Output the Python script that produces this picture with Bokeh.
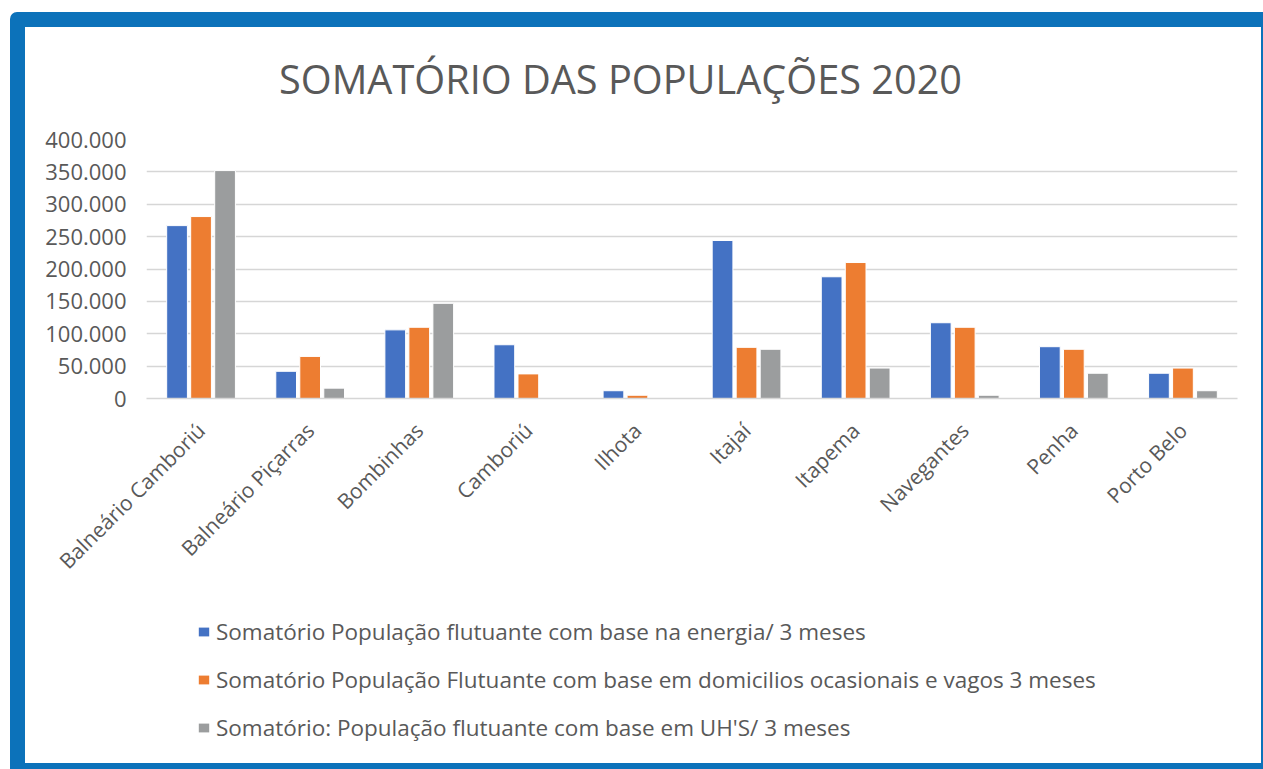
import math
from bokeh.plotting import figure
from bokeh.models import (FactorRange, FixedTicker, Legend, LegendItem, ColumnDataSource,
                          Range1d, Label)
from bokeh.transform import dodge
from bokeh.layouts import column
from bokeh.embed import file_html
from bokeh.resources import INLINE

# ---- data ----
cities = ["Balneário Camboriú", "Balneário Piçarras", "Bombinhas", "Camboriú", "Ilhota",
          "Itajaí", "Itapema", "Navegantes", "Penha", "Porto Belo"]
energia = [267000, 42000, 106000, 83000, 12000, 244000, 188000, 117000, 80000, 39000]
domicilios = [281000, 65000, 110000, 38000, 5000, 79000, 210000, 110000, 76000, 47000]
uhs = [352000, 16000, 147000, 0, 0, 76000, 47000, 5000, 39000, 12000]
series_names = [
    "Somatório População flutuante com base na energia/ 3 meses",
    "Somatório População Flutuante com base em domicilios ocasionais e vagos 3 meses",
    "Somatório: População flutuante com base em UH'S/ 3 meses",
]
y_ticks = [0, 50000, 100000, 150000, 200000, 250000, 300000, 350000, 400000]
y_tick_labels = ["0", "50.000", "100.000", "150.000", "200.000", "250.000", "300.000", "350.000", "400.000"]
title_text = "SOMATÓRIO DAS POPULAÇÕES 2020"

colors = ["#4472C4", "#ED7D31", "#9B9D9E"]
FONT = "Open Sans"
TXT = "#595959"
W = 1236
BORDERS = dict(min_border_left=121, min_border_right=24)


def blank_panel(height):
    f = figure(width=W, height=height, output_backend="svg", toolbar_location=None,
               x_axis_location=None, y_axis_location=None,
               x_range=Range1d(0, 1), y_range=Range1d(0, 1),
               min_border_top=0, min_border_bottom=0, **BORDERS)
    f.outline_line_color = None
    f.grid.visible = False
    return f


# ---- title panel ----
pt = blank_panel(97)
pt.add_layout(Label(x=0.4345, y=0.465, text=title_text, text_align="center",
                    text_baseline="alphabetic", text_font=FONT, text_font_size="39.7px",
                    text_color=TXT))

# ---- main chart ----
src = ColumnDataSource(dict(city=cities, energia=energia, domicilios=domicilios, uhs=uhs))

p = figure(x_range=FactorRange(*cities), y_range=(0, 400000),
           width=W, height=476, output_backend="svg", toolbar_location=None,
           min_border_top=15, min_border_bottom=202, **BORDERS)

offsets = [-0.22, 0.0, 0.22]
cols = ["energia", "domicilios", "uhs"]
for c, off, col in zip(cols, offsets, colors):
    p.vbar(x=dodge("city", off, range=p.x_range), top=c, width=0.19, source=src,
           fill_color=col, line_color="white", line_width=1)

p.outline_line_color = None
p.xgrid.visible = False
p.ygrid.grid_line_color = "#D6D6D6"
p.ygrid.grid_line_width = 1.6

p.yaxis.ticker = FixedTicker(ticks=y_ticks)
p.yaxis.major_label_overrides = {t: l for t, l in zip(y_ticks, y_tick_labels)}
p.yaxis.axis_line_color = None
p.yaxis.major_tick_line_color = None
p.yaxis.minor_tick_line_color = None
p.yaxis.major_label_text_font = FONT
p.yaxis.major_label_text_font_size = "22px"
p.yaxis.major_label_text_color = TXT
p.yaxis.major_label_standoff = 14

p.xaxis.axis_line_color = "#D6D6D6"
p.xaxis.axis_line_width = 1.6
p.xaxis.major_tick_line_color = None
p.xaxis.minor_tick_line_color = None
p.xaxis.major_label_orientation = math.pi / 4
p.xaxis.major_label_text_font = FONT
p.xaxis.major_label_text_font_size = "21px"
p.xaxis.major_label_text_color = TXT
p.xaxis.major_label_standoff = 22

# ---- legend panel ----
pl = blank_panel(163)
swatch = ColumnDataSource(dict(x=[-10], top=[0]))
leg_renderers = [pl.vbar(x="x", top="top", width=0.1, source=swatch, fill_color=col, line_color=None)
                 for col in colors]

legend = Legend(items=[LegendItem(label=n, renderers=[r]) for n, r in zip(series_names, leg_renderers)],
                location=(51, 20), orientation="vertical")
legend.label_text_font = FONT
legend.label_text_font_size = "22.5px"
legend.label_text_color = TXT
legend.label_height = 31
legend.glyph_height = 11
legend.glyph_width = 13
legend.spacing = 17
legend.padding = 0
legend.margin = 0
legend.label_standoff = 6
legend.border_line_color = None
legend.background_fill_alpha = 0
pl.add_layout(legend, "center")

layout = column(pt, p, pl, styles={"background-color": "white",
                                   "border-style": "solid", "border-color": "#0C72BA",
                                   "border-width": "15px 2px 6px 15px",
                                   "position": "fixed", "left": "10px", "top": "12px",
                                   "border-radius": "7px 0 0 0"})

open("out.html", "w").write(file_html(layout, INLINE))
